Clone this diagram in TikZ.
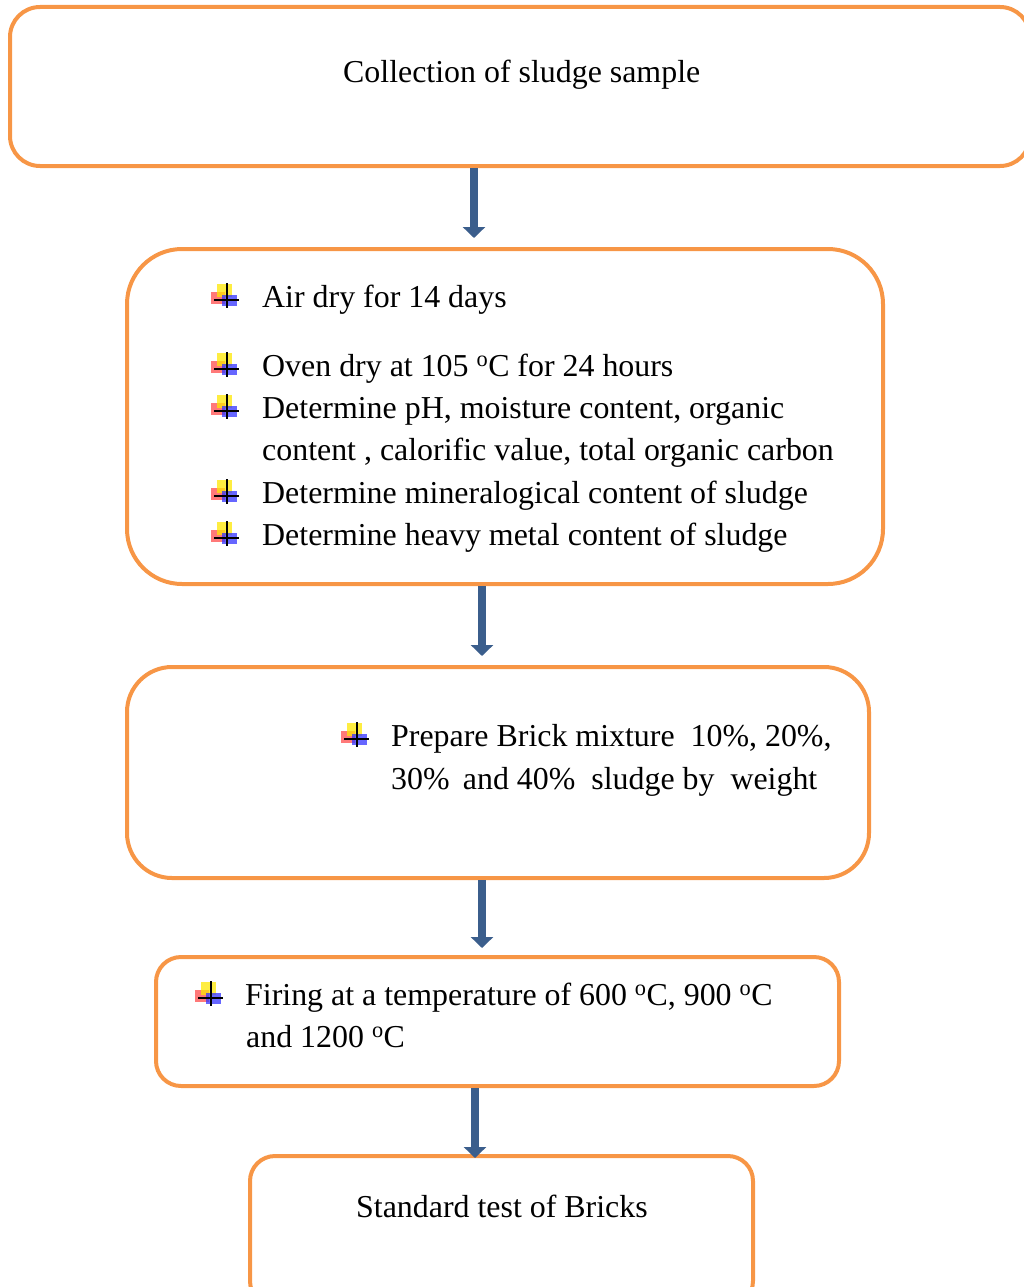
\documentclass[tikz,border=0pt]{standalone}
\usepackage{fontspec}
\setmainfont{Liberation Serif}
\usetikzlibrary{arrows.meta}
\definecolor{boxorange}{HTML}{F79646}
\definecolor{arrowblue}{HTML}{3B5E8C}
\tikzset{
  flowbox/.style={draw=boxorange, line width=4pt, fill=none, rectangle, inner sep=0pt},
  flowarrow/.style={draw=arrowblue, line width=8pt, -{Triangle[width=22pt,length=11pt]}},
  txt/.style={anchor=base west, inner sep=0pt, font=\fontsize{31.9}{42}\selectfont, align=left},
  bul/.pic={
    \fill[red!75!white, opacity=0.7] (-1,8) rectangle (13,20);
    \fill[yellow!90!orange, opacity=0.75] (5,0) rectangle (20,13);
    \fill[blue!80!white, opacity=0.75] (10,11) rectangle (25,22);
    \draw[black, line width=2pt] (15,-1) -- (15,24);
    \draw[black, line width=2pt] (2,16) -- (27,16);
  }
}
\begin{document}
\begin{tikzpicture}[x=1pt,y=-1pt]
\useasboundingbox (0,0) rectangle (1024,1287);
\clip (0,0) rectangle (1024,1287);
% boxes
\node[flowbox, rounded corners=30pt, minimum width=1020pt, minimum height=159pt] (b1) at (520,86.5) {};
\node[flowbox, rounded corners=55pt, minimum width=756pt, minimum height=335pt] (b2) at (505,416.5) {};
\node[flowbox, rounded corners=45pt, minimum width=742pt, minimum height=211pt] (b3) at (498,772.5) {};
\node[flowbox, rounded corners=25pt, minimum width=683pt, minimum height=129pt] (b4) at (497.5,1021.5) {};
\node[flowbox, rounded corners=25pt, minimum width=503pt, minimum height=150pt] (b5) at (501.5,1231) {};
% texts
\node[txt] (t1) at (343,83) {Collection of sludge sample};
\node[txt] (t2a) at (262,307) {Air dry for 14 days};
\node[txt] (t2b) at (262,376) {Oven dry at 105 \textsuperscript{o}C for 24 hours};
\node[txt] (t2c) at (262,418) {Determine pH, moisture content, organic};
\node[txt] (t2d) at (262,460) {content , calorific value, total organic carbon};
\node[txt] (t2e) at (262,503) {Determine mineralogical content of sludge};
\node[txt] (t2f) at (262,545) {Determine heavy metal content of sludge};
\node[txt] (t3a) at (391,746) {Prepare Brick mixture\ \ 10\%, 20\%,};
\node[txt] (t3b) at (391,789) {30\%\,\ and 40\%\ \ sludge by\ \ weight};
\node[txt] (t4a) at (245,1005) {Firing at a temperature of 600 \textsuperscript{o}C, 900 \textsuperscript{o}C};
\node[txt] (t4b) at (246,1047) {and 1200 \textsuperscript{o}C};
\node[txt] (t5) at (356,1217) {Standard test of Bricks};
% bullets
\pic at (212,284) {bul};
\pic at (212,353) {bul};
\pic at (212,395) {bul};
\pic at (212,480) {bul};
\pic at (212,522) {bul};
\pic at (342,723) {bul};
\pic at (196,982) {bul};
% arrows
\coordinate (ax1) at (474,0);
\coordinate (ax2) at (482,0);
\coordinate (ax3) at (482,0);
\coordinate (ax4) at (475,0);
\draw[flowarrow, shorten >=9pt] (b1.south -| ax1) -- (b2.north -| ax1);
\draw[flowarrow, shorten >=9pt] (b2.south -| ax2) -- (b3.north -| ax2);
\draw[flowarrow, shorten >=7pt] (b3.south -| ax3) -- (b4.north -| ax3);
\draw[flowarrow, shorten >=-4pt] (b4.south -| ax4) -- (b5.north -| ax4);
\end{tikzpicture}
\end{document}
